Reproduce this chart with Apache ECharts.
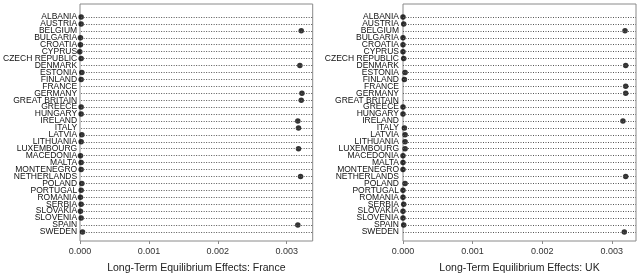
<!DOCTYPE html>
<html>
<head>
<meta charset="utf-8">
<script src="https://cdn.jsdelivr.net/npm/echarts@6/dist/echarts.min.js"></script>
<style>
  html, body { margin: 0; padding: 0; background: #fff; }
  #chart { width: 640px; height: 279px; }
</style>
</head>
<body>
<div id="chart"></div>
<script>
  // 国家（从上到下）
  const countries = ['ALBANIA', 'AUSTRIA', 'BELGIUM', 'BULGARIA', 'CROATIA', 'CYPRUS', 'CZECH REPUBLIC',
    'DENMARK', 'ESTONIA', 'FINLAND', 'FRANCE', 'GERMANY', 'GREAT BRITAIN', 'GREECE', 'HUNGARY',
    'IRELAND', 'ITALY', 'LATVIA', 'LITHUANIA', 'LUXEMBOURG', 'MACEDONIA', 'MALTA', 'MONTENEGRO',
    'NETHERLANDS', 'POLAND', 'PORTUGAL', 'ROMANIA', 'SERBIA', 'SLOVAKIA', 'SLOVENIA', 'SPAIN', 'SWEDEN']

  // France 冲击的长期均衡效应（France 本身无值）
  const franceEffects = [0, 0, 0.00321, -0.00001, -0.00001, -0.00002, 0,
    0.00319, 0.00001, 0, null, 0.00322, 0.00321, 0, 0,
    0.00316, 0.00317, 0.00001, 0, 0.00317, -0.00001, 0, 0,
    0.0032, 0.00001, 0, -0.00001, 0, -0.00001, 0, 0.00316, 0.00002]

  // UK 冲击的长期均衡效应（Great Britain 本身无值）
  const ukEffects = [0, 0.00001, 0.00319, 0, 0, 0, 0.00001,
    0.0032, 0.00003, 0.00002, 0.0032, 0.0032, null, 0, 0,
    0.00316, 0.00002, 0.00003, 0.00003, 0.00003, 0, 0, 0,
    0.0032, 0.00003, 0, 0, 0.00001, 0, 0, 0.00001, 0.00318]

  const xTicks = [0, 0.001, 0.002, 0.003]
  const panelTitles = ['Long-Term Equilibrium Effects: France', 'Long-Term Equilibrium Effects: UK']

  const myChart = echarts.init(document.getElementById('chart'))

  const panels = [
    { left: 80, width: 232.7, max: 0.003377, data: franceEffects },
    { left: 403, width: 233, max: 0.003348, data: ukEffects }
  ]

  let grids = [], xAxes = [], yAxes = [], seriesData = []
  panels.forEach((p, i) => {
    // 外框 + x 轴
    grids.push({ left: p.left, width: p.width, top: 4, bottom: 33.5, show: true,
      borderColor: '#8a8a8a', borderWidth: 1, backgroundColor: 'transparent' })
    // 内部数据区
    grids.push({ left: p.left, width: p.width, top: 13.5, bottom: 43.6 })
    xAxes.push({
      type: 'value', gridIndex: i * 2, min: 0, max: p.max,
      name: panelTitles[i], nameLocation: 'middle', nameGap: 22,
      nameTextStyle: { fontFamily: 'Liberation Sans', fontSize: 10.5, color: '#222' },
      axisLine: { show: false },
      axisTick: { show: true, length: 3, customValues: xTicks, lineStyle: { color: '#8a8a8a' } },
      axisLabel: { customValues: xTicks, margin: 6, fontFamily: 'Liberation Sans', fontSize: 9,
        color: '#333', formatter: v => v.toFixed(3) },
      splitLine: { show: false }
    })
    xAxes.push({ type: 'value', gridIndex: i * 2 + 1, min: 0, max: p.max, show: false })
    yAxes.push({ type: 'value', gridIndex: i * 2, show: false })
    yAxes.push({
      type: 'category', gridIndex: i * 2 + 1, data: countries, inverse: true,
      axisLine: { show: false }, axisTick: { show: false }, splitLine: { show: false },
      axisLabel: { interval: 0, margin: 4, fontFamily: 'Liberation Sans', fontSize: 8.5,
        lineHeight: 8, color: '#111' }
    })
    seriesData.push({
      type: 'scatter', xAxisIndex: i * 2 + 1, yAxisIndex: i * 2 + 1,
      symbolSize: 5.5, clip: false, silent: true,
      itemStyle: { color: '#000' },
      data: p.data.map((v, k) => [v, countries[k]]).filter(d => d[0] !== null),
      markLine: {
        silent: true, symbol: 'none', animation: false,
        label: { show: false },
        lineStyle: { color: '#555', width: 1, type: [1, 1.5] },
        data: countries.map(c => ({ yAxis: c }))
      },
      z: 3
    })
  })

  myChart.setOption({
    animation: false,
    grid: grids,
    xAxis: xAxes,
    yAxis: yAxes,
    series: seriesData
  })

  window.addEventListener('resize', () => {
    myChart && myChart.resize()
  })
</script>
</body>
</html>
